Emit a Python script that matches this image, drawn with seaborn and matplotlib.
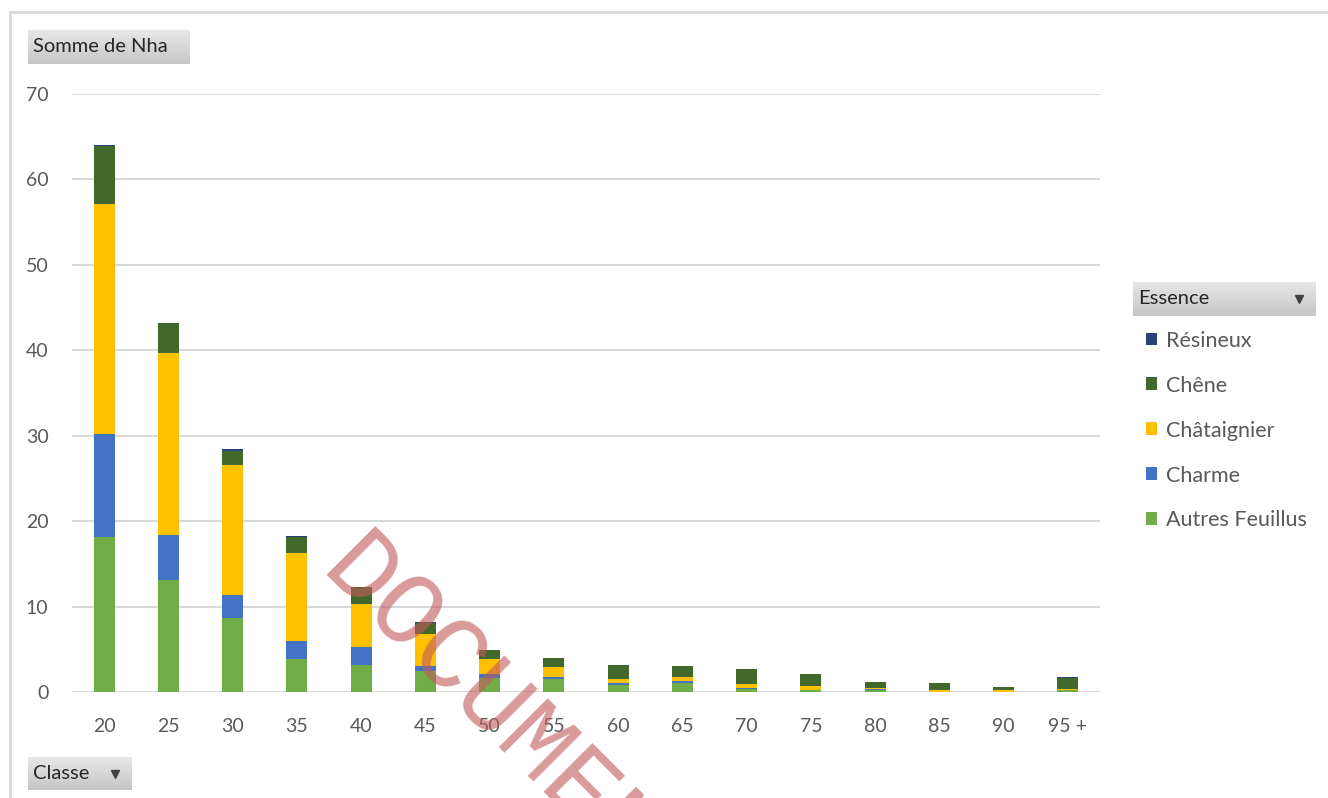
import numpy as np
import pandas as pd
import matplotlib
matplotlib.use('Agg')
import matplotlib.pyplot as plt
from matplotlib.patches import Rectangle
import seaborn as sns

# valeurs (Nha par classe de diametre)
classes = ['20', '25', '30', '35', '40', '45', '50', '55', '60', '65', '70', '75', '80', '85', '90', '95 +']
autres_feuillus = [18.1, 13.1, 8.7, 3.9, 3.2, 2.5, 1.6, 1.5, 0.85, 1.1, 0.3, 0.2, 0.25, 0.05, 0.05, 0.2]
charme = [12.1, 5.3, 2.7, 2.1, 2.1, 0.6, 0.5, 0.3, 0.15, 0.15, 0.15, 0.05, 0.1, 0.0, 0.0, 0.0]
chataignier = [26.9, 21.3, 15.2, 10.3, 5.0, 3.7, 1.8, 1.1, 0.5, 0.55, 0.45, 0.5, 0.15, 0.15, 0.2, 0.2]
chene = [6.8, 3.5, 1.6, 1.9, 2.0, 1.3, 1.0, 1.1, 1.7, 1.2, 1.8, 1.35, 0.7, 0.85, 0.35, 1.2]
resineux = [0.15, 0.0, 0.2, 0.1, 0.0, 0.1, 0.0, 0.0, 0.0, 0.0, 0.0, 0.0, 0.0, 0.0, 0.0, 0.1]

essences = ['Autres Feuillus', 'Charme', 'Châtaignier', 'Chêne', 'Résineux']
couleurs = ['#70AD47', '#4472C4', '#FFC000', '#43682B', '#264478']

W, H = 1328, 798

sns.set_style('white')
plt.rcParams['font.family'] = ['Lato', 'DejaVu Sans']

df = pd.DataFrame({'Classe': classes, 'Autres Feuillus': autres_feuillus, 'Charme': charme,
                   'Châtaignier': chataignier, 'Chêne': chene, 'Résineux': resineux})
cumul = df[essences].cumsum(axis=1)

fig = plt.figure(figsize=(W / 100, H / 100), dpi=100)
ax = fig.add_axes([72 / W, 1 - 692 / H, (1100 - 72) / W, (692 - 94) / H])

# empilement : on dessine les cumuls du plus haut au plus bas
for ess, col in reversed(list(zip(essences, couleurs))):
    sns.barplot(x=df['Classe'], y=cumul[ess], order=classes, color=col, saturation=1,
                width=0.33, errorbar=None, linewidth=0, label=ess, ax=ax)

ax.set_xlim(-0.5, len(classes) - 0.5)
ax.set_ylim(0, 70)
ax.set_yticks(np.arange(0, 71, 10))
ax.yaxis.grid(True, color='#d9d9d9', linewidth=1.5)
ax.set_axisbelow(True)
sns.despine(ax=ax, left=True, bottom=True)
ax.tick_params(axis='y', length=0, pad=17, labelsize=14, labelcolor='#595959')
ax.tick_params(axis='x', length=0, pad=19, labelsize=14, labelcolor='#595959')
ax.set_xlabel('')
ax.set_ylabel('')

# legende (ordre inverse de l'empilement)
handles, labels = ax.get_legend_handles_labels()
if ax.get_legend() is not None:
    ax.get_legend().remove()
fig.legend(handles, labels, loc='upper left', bbox_to_anchor=(1137 / W, 1 - 322 / H),
           frameon=False, fontsize=15.5, labelcolor='#595959', handlelength=0.55,
           handleheight=0.55, handletextpad=0.4, labelspacing=1.16, borderaxespad=0)


def bouton(x0, y0, x1, y1, texte, fleche=False):
    b = fig.add_axes([x0 / W, 1 - y1 / H, (x1 - x0) / W, (y1 - y0) / H])
    grad = np.linspace(0, 1, 50).reshape(-1, 1)
    b.imshow(grad, aspect='auto', cmap=matplotlib.colors.LinearSegmentedColormap.from_list(
        'g', ['#e8e8e8', '#c6c6c6']), extent=(0, 1, 0, 1))
    b.set_xlim(0, 1)
    b.set_ylim(0, 1)
    b.axis('off')
    b.text(5 / (x1 - x0), 0.5, texte, fontsize=14.5, color='#262626', va='center', ha='left')
    if fleche:
        b.plot([1 - 17 / (x1 - x0)], [0.5], marker='v', markersize=6, color='#404040')


bouton(28, 30, 190, 64, 'Somme de Nha')
bouton(1133, 282, 1316, 316, 'Essence', fleche=True)
bouton(28, 757, 132, 790, 'Classe', fleche=True)

# cadre exterieur
fig.patches.append(Rectangle((10 / W, -0.1), 1.2, 1 - 12 / H + 0.1, fill=False,
                             edgecolor='#d9d9d9', linewidth=2, transform=fig.transFigure))

# filigrane
fig.text(318 / W, 1 - 574 / H, 'DOCUMENT', rotation=-45, rotation_mode='anchor',
         ha='left', va='baseline', fontsize=74, family='Liberation Mono',
         color=(0.76, 0.36, 0.36), alpha=0.62, zorder=10)

fig.savefig('out.png', dpi=100)
